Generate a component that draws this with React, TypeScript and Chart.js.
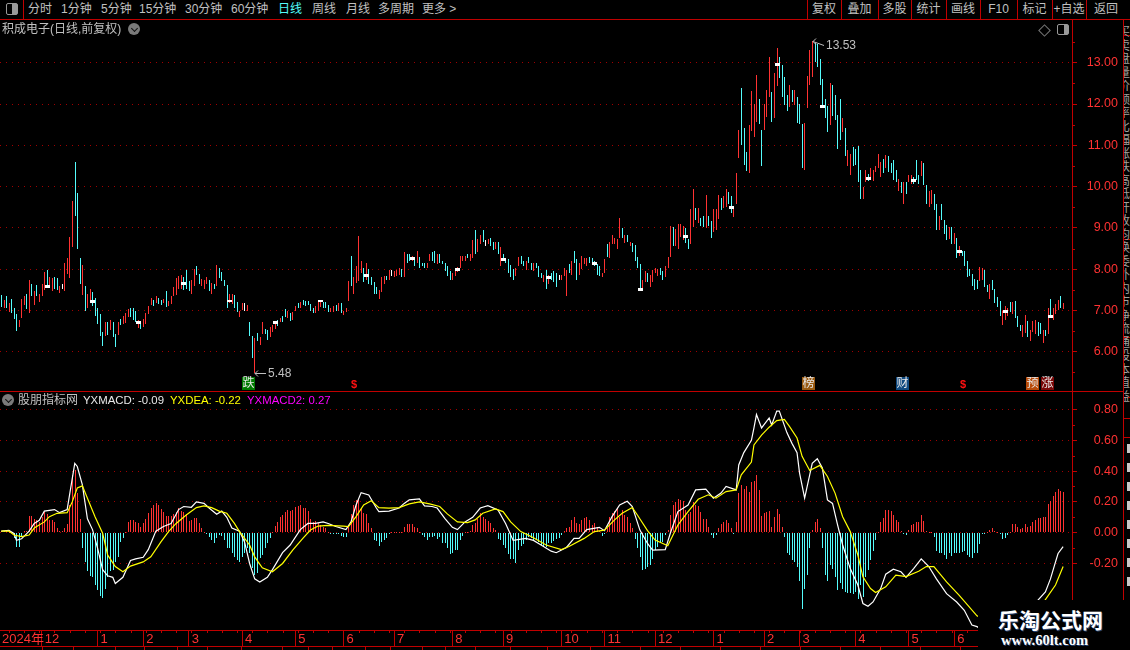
import React, { useEffect, useRef } from "react";
import { Chart, registerables } from "chart.js";
Chart.register(...registerables);

const barHigh = [7.37,7.25,7.35,7.17,7.29,7.07,6.91,6.76,7.27,7.35,
7.41,7.75,7.65,7.47,7.61,7.41,7.65,7.93,7.98,7.82,
7.78,7.82,7.78,7.59,7.65,8.14,8.28,8.77,9.65,10.6,
9.84,8.28,8.09,7.59,7.41,7.51,7.44,7.31,7.07,6.91,
6.48,6.71,6.72,6.76,6.72,6.44,6.72,6.79,6.86,6.93,
7.03,7.05,7.05,7.0,6.78,6.75,6.80,6.95,7.10,7.31,
7.25,7.35,7.31,7.25,7.29,7.47,7.23,7.35,7.56,7.78,
7.83,7.86,7.82,7.98,7.72,7.73,8.0,8.07,7.88,7.76,
7.73,7.82,7.73,7.67,7.65,8.1,8.04,7.94,7.73,7.61,
7.39,7.39,7.37,7.21,7.0,7.19,7.17,7.13,6.71,6.38,
6.33,6.45,6.35,6.71,6.55,6.54,6.59,6.65,6.72,6.76,
6.82,6.86,7.03,6.98,6.94,6.96,7.10,7.17,7.2,7.25,
7.22,7.22,7.15,7.05,7.12,7.21,7.25,7.21,7.20,7.14,
7.05,7.1,7.13,7.17,7.17,7.0,7.07,7.71,8.32,7.82,
8.07,8.8,8.19,8.04,8.14,8.0,7.80,7.68,7.58,7.49,
7.80,7.83,7.83,7.97,7.97,7.95,7.97,8.04,8.0,8.41,
8.36,8.38,8.33,8.26,8.43,8.29,8.16,8.14,8.14,8.38,
8.41,8.43,8.38,8.36,8.19,8.14,8.07,7.95,7.92,7.95,
8.05,8.33,8.33,8.33,8.36,8.38,8.70,8.94,8.72,8.84,
8.94,8.70,8.72,8.75,8.67,8.65,8.67,8.53,8.38,8.21,
8.24,8.09,8.0,8.04,8.29,8.33,8.21,8.21,8.29,8.14,
8.14,8.14,8.07,7.92,7.85,7.97,7.85,7.92,7.95,7.90,
7.87,7.87,8.04,7.97,8.12,8.21,8.43,8.24,8.14,8.31,
8.26,8.26,8.29,8.26,8.21,8.12,8.07,7.92,8.24,8.60,
8.65,8.82,8.75,8.72,9.23,8.99,8.84,8.84,8.67,8.63,
8.58,8.29,8.12,7.75,7.95,7.92,7.87,7.97,8.04,8.0,
8.02,7.95,8.07,8.29,9.04,9.01,8.97,9.09,9.09,9.04,
8.99,8.72,9.45,9.94,9.47,9.47,9.23,9.30,9.79,9.28,
9.16,9.45,9.45,9.79,9.72,9.77,9.94,9.86,9.77,9.51,
10.34,11.36,12.38,11.41,10.83,11.49,12.31,12.0,12.70,12.13,
11.36,11.99,12.34,13.15,12.30,12.76,13.36,13.15,12.94,12.66,
12.21,12.46,12.34,12.34,12.18,12.0,11.51,11.53,12.68,13.31,
13.53,13.47,13.45,13.08,12.6,12.13,11.95,12.5,12.46,12.21,
11.73,12.11,11.65,11.41,10.88,10.78,10.95,10.91,10.98,10.40,
9.99,10.40,10.3,10.44,10.40,10.51,10.78,10.60,10.68,10.76,
10.73,10.56,10.64,10.40,10.19,10.11,10.11,10.11,10.27,10.27,
10.23,10.64,10.27,10.61,10.56,10.03,9.89,9.91,9.81,9.59,
9.28,9.57,9.18,9.06,9.02,9.02,8.88,8.76,8.57,8.45,
8.43,8.21,8.0,7.89,7.76,7.73,8.06,8.03,7.99,7.62,
7.64,7.73,7.52,7.32,7.22,7.0,7.12,7.07,7.2,7.2,
7.24,6.87,6.66,6.64,6.88,6.74,6.54,6.75,6.77,6.71,
6.70,6.54,6.54,7.05,7.27,7.05,7.15,7.26,7.34,7.18];

const barLow = [7.09,7.06,7.05,6.97,6.93,6.79,6.50,6.59,6.81,7.13,
7.03,6.93,7.35,7.13,7.35,7.20,7.35,7.49,7.55,7.57,
7.48,7.51,7.49,7.43,7.52,7.48,7.88,7.78,8.54,9.3,
8.50,7.64,7.38,7.0,7.07,7.25,7.10,6.86,6.67,6.38,
6.13,6.38,6.40,6.52,6.36,6.12,6.40,6.64,6.68,6.70,
6.84,6.84,6.76,6.72,6.57,6.55,6.59,6.67,6.91,7.13,
7.10,7.17,7.15,7.13,7.18,7.09,7.10,7.15,7.35,7.37,
7.51,7.53,7.49,7.51,7.48,7.39,7.6,7.86,7.64,7.6,
7.53,7.65,7.47,7.41,7.51,7.59,7.78,7.71,7.59,7.05,
7.18,7.15,7.07,6.97,6.84,7.02,7.0,6.98,6.38,5.84,
5.48,6.25,6.16,6.42,6.44,6.28,6.35,6.47,6.55,6.62,
6.71,6.72,6.84,6.83,6.74,6.76,6.98,7.06,7.05,7.13,
7.12,7.13,7.0,6.94,6.94,7.0,7.09,7.07,7.06,6.97,
6.97,6.97,7.0,6.99,6.93,6.89,6.97,7.22,7.59,7.41,
7.67,7.71,7.90,7.68,7.75,7.63,7.61,7.41,7.39,7.27,
7.46,7.63,7.73,7.73,7.83,7.80,7.83,7.87,7.80,7.80,
8.14,8.21,8.19,8.07,8.16,8.04,8.07,8.04,8.02,8.19,
8.21,8.14,8.12,8.14,8.12,7.95,7.83,7.75,7.75,7.83,
7.93,8.02,8.19,8.21,8.26,8.21,8.26,8.38,8.41,8.60,
8.65,8.55,8.60,8.55,8.46,8.48,8.38,8.07,8.19,8.14,
7.92,7.80,7.73,7.83,8.07,8.12,8.07,7.97,8.14,7.97,
7.95,8.02,7.80,7.78,7.68,7.53,7.63,7.75,7.70,7.58,
7.75,7.75,7.83,7.36,7.90,7.85,8.14,7.75,7.85,8.0,
8.12,8.07,8.14,8.12,8.07,7.87,7.83,7.80,7.90,8.29,
8.26,8.60,8.60,8.48,8.75,8.75,8.63,8.67,8.55,8.41,
8.21,8.02,7.51,7.51,7.68,7.68,7.58,7.70,7.92,7.83,
7.87,7.75,7.80,8.04,8.29,8.55,8.55,8.50,8.77,8.70,
8.63,8.50,8.60,9.01,9.18,9.11,9.04,9.01,8.99,9.04,
8.75,8.89,8.96,9.22,9.43,9.49,9.51,9.59,9.35,9.27,
9.57,10.69,11.0,10.52,10.37,10.33,11.35,11.2,11.57,11.51,
10.49,11.36,11.69,12.17,11.57,11.67,12.43,12.64,12.17,11.97,
11.83,11.92,12.05,11.97,11.53,11.51,10.44,10.40,11.91,12.46,
12.66,13.02,12.90,12.46,11.9,11.65,11.33,11.49,11.71,11.61,
10.90,11.12,11.33,10.74,10.49,10.27,10.49,10.52,10.11,9.69,
9.71,10.11,10.14,10.19,10.14,10.35,10.45,10.23,10.33,10.46,
10.35,10.33,10.15,10.11,9.89,9.85,9.57,9.81,10.10,10.07,
10.06,10.15,10.06,10.26,10.03,9.59,9.51,9.59,9.43,8.96,
8.96,9.19,8.86,8.70,8.74,8.62,8.60,8.27,8.32,8.32,
8.07,7.80,7.84,7.59,7.50,7.52,7.71,7.74,7.58,7.44,
7.28,7.49,7.19,7.08,6.87,6.66,6.77,6.87,6.96,6.91,
6.82,6.60,6.50,6.35,6.46,6.37,6.27,6.47,6.43,6.39,
6.42,6.21,6.39,6.42,6.85,6.76,6.92,7.02,7.06,7.04];

// r = up, c = down, w = flat
const barTone = "crcrcccrrr" + "crcrcrrrcr" + "rccrwrrrrc" + "ccrcrrcccc" + "crcrccrcrr" + "rcccrcrrrr" + "crccrcrrrr" + "rrcccrrccr" +
"rrcrcrcccc" + "rrccrrwrcc" + "rcrrccrrrc" + "rccrcrrcrc" + "ccccrrrccc" + "rrcrcrrrcr" + "rrrcrccccr" + "rrcrwrrrcr" +
"ccrcrcccrr" + "ccrcccccrr" + "rrrrcrrcrr" + "cwrccrcrcc" + "cccrrccrcc" + "rcccrcrccc" + "wrrrcrccrr" + "rrcccccrrc" +
"rrrrrcrcrc" + "cccrrcrrrr" + "ccrrrcrrrr" + "ccrrcrccrc" + "crrrcrrccr" + "rrcccrrrrc" + "crrrcrrccc" + "crcrcccrrr" +
"rccccccrcc" + "ccrcrrcccc" + "rrcrrrrrcr" + "ccccrcrcrr" + "cccrccrrcc" + "rcccrcrcrc" + "ccccccrrcc" + "rccccrrrcr" +
"cccrrcrrrc" + "crcrcrrrcr";

const markerIndex = [18,36,54,72,90,108,126,144,162,180,198,216,234,252,270,288,306,324,342,360,378,396,414];
const markerPrice = [7.59,7.22,6.72,7.65,7.23,6.72,7.23,7.85,8.26,8.0,8.24,7.80,8.14,7.51,8.80,9.50,12.95,11.93,10.2,10.14,8.43,6.97,6.85];

const histValues = [.01,.01,.01,.005,.005,-.035,-.09,-.09,-.02,.01,
.01,.11,.11,.09,.08,.07,.10,.137,.12,.08,
.08,.067,.028,.013,.013,.028,.054,.18,.376,.41,
.257,.087,-.1,-.19,-.25,-.28,-.29,-.34,-.37,-.41,
-.424,-.366,-.287,-.25,-.24,-.19,-.157,-.063,-.033,.006,
.067,.083,.083,.067,.06,.04,.06,.09,.126,.16,
.18,.19,.18,.154,.137,.11,.11,.11,.12,.137,
.16,.14,.137,.12,.076,.083,.093,.093,.06,.033,
.007,-.005,-.026,-.048,-.065,-.033,-.015,-.02,-.048,-.10,
-.10,-.135,-.157,-.18,-.19,-.157,-.135,-.10,-.135,-.23,
-.276,-.265,-.167,-.146,-.10,-.07,-.033,.004,.043,.07,
.104,.115,.137,.148,.14,.148,.17,.176,.18,.16,
.163,.14,.09,.067,.076,.06,.05,.04,.028,.005,
-.004,-.006,-.006,-.006,-.02,-.025,-.03,.04,.12,.18,
.21,.22,.16,.13,.12,.06,.028,-.05,-.055,-.087,
-.06,-.05,-.037,-.01,.005,.005,.005,.005,.003,.035,
.056,.056,.056,.04,.028,.007,-.015,-.03,-.048,-.03,
-.026,-.02,-.04,-.03,-.065,-.07,-.1,-.14,-.13,-.11,
-.11,-.048,-.02,.005,.007,.013,.05,.06,.087,.126,
.1,.087,.076,.065,.028,.017,-.043,-.048,-.08,-.1,
-.14,-.174,-.174,-.196,-.113,-.087,-.074,-.048,-.03,-.037,
-.048,-.048,-.06,-.08,-.09,-.09,-.07,-.065,-.054,-.043,
-.037,-.015,.013,.028,.04,.083,.1,.06,.056,.083,
.098,.1,.083,.05,.06,.035,.013,-.02,-.004,.028,
.1,.13,.143,.16,.1,.148,.115,.1,.06,.028,
-.043,-.1,-.157,-.24,-.233,-.22,-.21,-.17,-.113,-.096,
-.07,-.06,-.015,.02,.115,.18,.2,.217,.213,.206,
.148,.12,.137,.2,.18,.174,.137,.087,.087,.04,
-.015,-.033,-.015,.028,.056,.07,.083,.06,.028,-.008,
.07,.26,.31,.283,.3,.267,.326,.333,.376,.278,
.109,.126,.137,.14,.04,.104,.154,.12,.04,-.026,
-.135,-.146,-.178,-.19,-.22,-.313,-.493,-.363,-.276,-.098,
.017,.07,.09,.033,-.098,-.276,-.315,-.21,-.237,-.287,
-.374,-.33,-.363,-.385,-.39,-.39,-.40,-.385,-.428,-.34,
-.417,-.287,-.243,-.178,-.12,-.048,.007,.067,.098,.148,
.148,.14,.115,.08,.07,.01,-.004,-.015,.017,.05,
.056,.067,.07,.115,.078,.013,.005,.002,-.026,-.12,
-.13,-.135,-.146,-.172,-.135,-.15,-.135,-.135,-.135,-.124,
-.12,-.146,-.157,-.163,-.135,-.13,-.076,-.004,-.004,.002,
.017,.03,.013,.002,-.008,-.04,-.037,-.015,.006,.054,
.056,.04,.024,.033,.056,.04,.046,.067,.083,.093,
.098,.104,.104,.187,.207,.24,.267,.285,.27,.263];

const macdIndex = [0,3,5,6,8,11,13,15,17,21,23,26,27,29,30,32,34,36,38,40,42,44,45,48,51,53,56,58,61,64,67,70,72,75,77,80,82,85,87,89,91,94,96,98,100,102,105,107,111,114,118,121,124,127,129,132,136,138,140,142,145,148,149,153,157,159,161,165,167,170,172,175,178,180,183,186,189,192,196,199,202,207,210,213,217,219,223,226,228,231,236,238,241,244,247,249,252,255,257,262,264,267,271,274,278,281,284,286,290,291,293,296,297,298,300,303,304,306,307,310,312,314,315,317,319,320,322,324,326,328,330,332,335,338,340,342,344,347,349,352,355,357,360,363,366,369,373,377,380,383,385,392,398,404,409,412,414,416,417,419];
const macdValues = [.01,.015,-.005,-.05,-.04,.01,.06,.08,.14,.15,.13,.15,.25,.45,.43,.31,.09,.02,-.10,-.24,-.28,-.29,-.33,-.29,-.18,-.17,-.16,-.11,.01,.04,.06,.15,.17,.165,.20,.19,.16,.12,.14,.10,.03,.01,-.06,-.20,-.30,-.32,-.29,-.24,-.13,-.08,.02,.06,.06,.07,.06,.04,.02,.07,.18,.26,.245,.16,.137,.14,.16,.19,.213,.22,.174,.17,.16,.093,.035,.02,.07,.10,.16,.176,.148,.06,-.05,-.037,-.05,-.08,-.12,-.13,-.096,-.037,-.037,.02,.035,.013,.104,.18,.204,.17,.017,-.07,-.113,-.11,-.004,.137,.18,.278,.283,.224,.257,.30,.278,.44,.52,.60,.68,.767,.68,.745,.70,.79,.79,.65,.58,.52,.387,.224,.376,.45,.48,.42,.213,.19,.05,-.08,-.233,-.34,-.46,-.478,-.45,-.363,-.27,-.237,-.254,-.29,-.233,-.17,-.22,-.30,-.396,-.45,-.504,-.60,-.61,-.68,-.70,-.60,-.44,-.385,-.30,-.19,-.135,-.09];

const deaIndex = [0,3,5,8,11,13,17,19,22,26,28,30,32,34,37,40,42,45,48,51,56,59,63,66,69,73,77,80,83,86,89,92,94,98,100,103,107,111,115,119,122,125,129,135,137,140,143,146,149,153,157,161,165,169,173,176,180,184,187,190,195,198,201,205,210,215,221,224,230,234,238,242,245,249,251,255,258,263,267,271,275,279,282,286,290,292,296,297,300,303,306,309,311,314,316,319,323,326,329,332,335,338,340,343,345,349,353,357,362,365,368,373,378,385,395,405,412,416,419];
const deaValues = [.01,.01,-.015,-.026,-.015,.03,.07,.104,.126,.13,.20,.29,.304,.224,.104,-.004,-.146,-.22,-.254,-.217,-.19,-.157,-.06,.007,.06,.115,.163,.174,.163,.14,.126,.06,.007,-.08,-.157,-.228,-.254,-.20,-.113,-.037,.017,.043,.048,.043,.04,.104,.18,.207,.163,.16,.163,.187,.20,.187,.17,.122,.07,.065,.083,.126,.154,.137,.07,.007,-.033,-.08,-.11,-.09,-.037,.007,.017,.083,.126,.163,.115,.013,-.048,-.085,.05,.137,.217,.246,.224,.267,.278,.376,.459,.57,.633,.685,.728,.735,.69,.615,.496,.404,.437,.365,.257,.104,.007,-.146,-.287,-.363,-.389,-.352,-.276,-.285,-.25,-.22,-.22,-.32,-.407,-.54,-.63,-.60,-.435,-.34,-.22];

const priceTicks = [6, 7, 8, 9, 10, 11, 12, 13];
const priceHalfTicks = [5.5, 6.5, 7.5, 8.5, 9.5, 10.5, 11.5, 12.5, 13.5];
const macdTicks = [-0.2, 0, 0.2, 0.4, 0.6, 0.8];
const macdHalfTicks = [-0.1, 0.1, 0.3, 0.5, 0.7];
const monthIndex = [16,38,56,74,95,116,135,155,178,198,221,238,258,281,301,315,337,358,376];
const monthLabels = ["12","1","2","3","4","5","6","7","8","9","10","11","12","1","2","3","4","5","6"];
const highPoint = { index: 320, price: 13.53 };
const lowPoint = { index: 100, price: 5.48 };

const RED = "#ff3232";
const CYAN = "#54fcfc";
const AXIS = "#c00000";
const DOT = "#a00000";
const GREY = "#c0c0c0";
const TEXT_FONT = '"Liberation Sans","Noto Sans CJK SC",sans-serif';
const SLOTS = 423;
const toneColor: Record<string, string> = { r: RED, c: CYAN, w: "#ffffff" };

// keep one-pixel bars on whole pixels, as the terminal draws them
const snapBars = {
  id: "snapBars",
  beforeDatasetDraw(chart: any, args: any) {
    if (args.meta.type !== "bar") return;
    for (const el of args.meta.data) {
      el.x = Math.floor(el.x + 0.25) + 0.5;
      const a = Math.round(el.y);
      let b = Math.round(el.base);
      if (a === b) b = a + 1;
      el.y = a;
      el.base = b;
    }
  },
};

const halfTicks = (values: number[]) => ({
  id: "halfTicks",
  afterDraw(chart: any) {
    const { ctx, chartArea, scales } = chart;
    ctx.save();
    ctx.strokeStyle = AXIS;
    ctx.lineWidth = 1;
    for (const v of values) {
      const y = Math.round(scales.y.getPixelForValue(v)) + 0.5;
      ctx.beginPath();
      ctx.moveTo(chartArea.right, y);
      ctx.lineTo(chartArea.right + 3, y);
      ctx.stroke();
    }
    ctx.restore();
  },
});

const extremeLabels = {
  id: "extremeLabels",
  afterDatasetsDraw(chart: any) {
    const { ctx, scales } = chart;
    ctx.save();
    ctx.strokeStyle = GREY;
    ctx.fillStyle = GREY;
    ctx.lineWidth = 1;
    ctx.font = `12px ${TEXT_FONT}`;
    ctx.textBaseline = "middle";
    for (const [p, dy] of [[highPoint, 4], [lowPoint, 0]] as [typeof highPoint, number][]) {
      const x = Math.floor(scales.x.getPixelForValue(p.index) + 0.25) + 1;
      const y = Math.round(scales.y.getPixelForValue(p.price));
      ctx.beginPath();
      ctx.moveTo(x, y + 0.5);
      ctx.lineTo(x + 11, y + dy + 0.5);
      ctx.moveTo(x, y + 0.5);
      ctx.lineTo(x + 3, y - 2.5);
      ctx.moveTo(x, y + 0.5);
      ctx.lineTo(x + 3, y + 3.5);
      ctx.stroke();
      ctx.fillText(p.price.toFixed(2), x + 13, y + dy + 0.5);
    }
    ctx.restore();
  },
};

const shortDateTicks = {
  id: "shortDateTicks",
  afterDraw(chart: any) {
    const { ctx, chartArea, scales } = chart;
    ctx.save();
    ctx.strokeStyle = AXIS;
    for (let i = 3; i < 420; i += 6) {
      const x = Math.round(scales.x.getPixelForValue(i)) + 0.5;
      ctx.beginPath();
      ctx.moveTo(x, chartArea.bottom);
      ctx.lineTo(x, chartArea.bottom + 3);
      ctx.stroke();
    }
    ctx.restore();
  },
};

const yScale = (min: number, max: number, ticks: number[]) => ({
  type: "linear",
  position: "right",
  min,
  max,
  afterFit: (s: any) => { s.width = 46; s.paddingTop = 0; s.paddingBottom = 0; s.paddingLeft = 0; s.paddingRight = 0; },
  afterBuildTicks: (s: any) => { s.ticks = ticks.map((value) => ({ value })); },
  border: { display: true, color: AXIS, width: 1, dash: [1, 5] },
  grid: { color: DOT, lineWidth: 1, tickLength: 5, tickColor: AXIS, tickBorderDash: [] },
  ticks: {
    color: RED,
    font: { family: TEXT_FONT, size: 12.5 },
    crossAlign: "far",
    padding: 2,
    autoSkip: false,
    callback: (v: number) => Number(v).toFixed(2),
  },
});

const divider = (left: number, top: number, width: number, height: number, color = AXIS) => (
  <div style={{ position: "absolute", left, top, width, height, background: color }} />
);

const label = (text: string, left: number, top: number, color = GREY, size = 12, extra: any = {}) => (
  <div style={{ position: "absolute", left, top, color, fontSize: size, fontFamily: TEXT_FONT, lineHeight: "14px", whiteSpace: "nowrap", ...extra }}>{text}</div>
);

const circleIcon = (left: number, top: number) => (
  <div style={{ position: "absolute", left, top, width: 12, height: 12, borderRadius: 6, background: "#7a7a7a" }}>
    <div style={{ position: "absolute", left: 3.5, top: 2.5, width: 4, height: 4, borderRight: "1px solid #111", borderBottom: "1px solid #111", transform: "rotate(45deg)" }} />
  </div>
);

const eventTag = (text: string, left: number, bg: string) => (
  <div style={{ position: "absolute", left, top: 377, width: 13, height: 13, background: bg, color: "#e8e8e8", fontSize: 12, lineHeight: "13px", textAlign: "center", fontFamily: TEXT_FONT }}>{text}</div>
);

const dollarTag = (left: number) => (
  <div style={{ position: "absolute", left, top: 378, color: "#ff1010", fontSize: 11, lineHeight: "12px", fontWeight: 700, fontFamily: TEXT_FONT }}>$</div>
);

const toolLeft = [["分时",28],["1分钟",61],["5分钟",101],["15分钟",139],["30分钟",185],["60分钟",231],["日线",278],["周线",312],["月线",346],["多周期",378],["更多 >",422]] as [string, number][];
const toolRight = [["复权",807,841],["叠加",841,878],["多股",878,911],["统计",911,946],["画线",946,980],["F10",980,1017],["标记",1017,1052],["+自选",1052,1086],["返回",1086,1126]] as [string, number, number][];
const stripRows = ["买","卖","盘","量","价","额","率","比","幅","涨","跌","高","低","开","收","均","换","委","外","内","市","净","流","通","股","本","值","益"];
const bottomTicks = [42,73,115,144,177,207,241,282,308,332,365,390,422,445,475,510,547,590,640,680,720,760,800,840,880,920,960];

export default function App() {
  const priceRef = useRef<HTMLCanvasElement>(null);
  const macdRef = useRef<HTMLCanvasElement>(null);

  useEffect(() => {
    document.body.style.margin = "0";
    document.body.style.background = "#000";
    const xHidden: any = { type: "linear", min: -0.5, max: SLOTS - 0.5, display: false, offset: false };
    const common: any = {
      responsive: false,
      animation: false,
      devicePixelRatio: 1,
      layout: { padding: 0, autoPadding: false },
      plugins: { legend: { display: false }, tooltip: { enabled: false } },
      events: [],
    };
    const price = new Chart(priceRef.current as any, {
      type: "bar",
      data: {
        datasets: [
          {
            label: "marks",
            data: markerIndex.map((x, k) => ({ x, y: [markerPrice[k] - 0.035, markerPrice[k] + 0.035] })),
            backgroundColor: "#ffffff",
            barThickness: 5,
            inflateAmount: 0,
            grouped: false,
            order: 0,
          },
          {
            label: "candles",
            data: barHigh.map((h, i) => ({ x: i, y: [barLow[i], h] })),
            backgroundColor: barHigh.map((_, i) => toneColor[barTone[i]]),
            barThickness: 1,
            inflateAmount: 0,
            grouped: false,
            order: 1,
          },
        ] as any,
      },
      options: {
        ...common,
        scales: { x: xHidden, y: yScale(5.051, 14.034, priceTicks) },
      },
      plugins: [snapBars, halfTicks(priceHalfTicks), extremeLabels],
    });
    const macd = new Chart(macdRef.current as any, {
      type: "bar",
      data: {
        datasets: [
          {
            type: "line",
            label: "YXDEA",
            data: deaIndex.map((x, k) => ({ x, y: deaValues[k] })),
            borderColor: "#ffff00",
            borderWidth: 1.2,
            pointRadius: 0,
            tension: 0,
            order: 0,
          },
          {
            type: "line",
            label: "YXMACD",
            data: macdIndex.map((x, k) => ({ x, y: macdValues[k] })),
            borderColor: "#ffffff",
            borderWidth: 1.2,
            pointRadius: 0,
            tension: 0,
            order: 1,
          },
          {
            label: "YXMACD2",
            data: histValues.map((v, i) => ({ x: i, y: v })),
            backgroundColor: histValues.map((v) => (v >= 0 ? RED : CYAN)),
            barThickness: 1,
            inflateAmount: 0,
            grouped: false,
            order: 2,
          },
        ] as any,
      },
      options: {
        ...common,
        scales: {
          x: {
            type: "linear",
            offset: false,
            min: -0.5,
            max: SLOTS - 0.5,
            afterFit: (s: any) => { s.height = 17; s.paddingLeft = 0; s.paddingRight = 0; s.paddingTop = 0; s.paddingBottom = 0; },
            afterBuildTicks: (s: any) => { s.ticks = monthIndex.map((value) => ({ value })); },
            border: { display: false },
            grid: { offset: false, drawOnChartArea: false, tickLength: 16, tickColor: AXIS, tickWidth: 1 },
            ticks: {
              color: RED,
              font: { family: TEXT_FONT, size: 13 },
              align: "start",
              labelOffset: 3,
              padding: -14,
              maxRotation: 0,
              autoSkip: false,
              callback: (_: any, i: number) => monthLabels[i],
            },
          },
          y: yScale(-0.632, 0.9136, macdTicks),
        },
      },
      plugins: [snapBars, halfTicks(macdHalfTicks), shortDateTicks],
    });
    return () => { price.destroy(); macd.destroy(); };
  }, []);

  return (
    <div style={{ position: "absolute", left: 0, top: 0, width: 1130, height: 650, background: "#000", overflow: "hidden" }}>
      <canvas ref={priceRef} width={1118} height={371} style={{ position: "absolute", left: 0, top: 20, width: 1118, height: 371 }} />
      <canvas ref={macdRef} width={1118} height={255} style={{ position: "absolute", left: 0, top: 392, width: 1118, height: 255 }} />

      {divider(0, 19, 1130, 1)}
      {divider(0, 391, 1123, 1)}
      {divider(0, 630, 1072, 1)}
      {divider(0, 646, 1072, 1)}
      {divider(1123, 20, 1, 580)}
      {divider(1123, 35, 7, 1)}
      {divider(1123, 142, 7, 1)}
      {divider(1123, 239, 7, 1)}
      {divider(1123, 337, 7, 1)}
      {divider(1123, 397, 7, 1)}
      {divider(1123, 418, 7, 1)}
      {divider(1123, 437, 7, 1)}
      {divider(23, 0, 1, 19)}
      {toolRight.map(([, l]) => <React.Fragment key={l}>{divider(l, 0, 1, 19)}</React.Fragment>)}
      {bottomTicks.map((x) => <React.Fragment key={x}>{divider(x, 647, 1, 3)}</React.Fragment>)}

      <div style={{ position: "absolute", left: 1124, top: 20, width: 6, height: 580, overflow: "hidden" }}>
        {stripRows.map((c, i) => (
          <div key={i} style={{ position: "absolute", left: -6, top: 6 + i * 13.5, color: "#a0a0a0", fontSize: 12, lineHeight: "13px", fontFamily: TEXT_FONT }}>{c}</div>
        ))}
        {[0, 1, 2, 3, 4, 5, 6, 7].map((i) => (
          <div key={i} style={{ position: "absolute", left: 3, top: 424 + i * 19, width: 3, height: 9, background: "#c8c8c8" }} />
        ))}
      </div>

      {/* toolbar */}
      <div style={{ position: "absolute", left: 6, top: 3, width: 12, height: 12, border: "1px solid #999", borderRadius: 2, boxSizing: "border-box" }}>
        <div style={{ position: "absolute", right: 0, top: 0, width: 5, height: 10, background: "#999" }} />
      </div>
      {toolLeft.map(([t, x]) => <React.Fragment key={t}>{label(t, x, 2, t === "日线" ? "#54fcfc" : GREY)}</React.Fragment>)}
      {toolRight.map(([t, a, b]) => (
        <div key={t} style={{ position: "absolute", left: a, width: b - a, top: 2, textAlign: "center", color: GREY, fontSize: 12, lineHeight: "14px", fontFamily: TEXT_FONT }}>{t}</div>
      ))}

      {/* price panel captions */}
      {label("积成电子(日线,前复权)", 2, 22, GREY, 12)}
      {circleIcon(128, 23)}
      <div style={{ position: "absolute", left: 1040, top: 26, width: 7, height: 7, border: "1px solid #777", transform: "rotate(45deg)" }} />
      <div style={{ position: "absolute", left: 1057, top: 24, width: 12, height: 11, border: "1px solid #999", borderRadius: 2, boxSizing: "border-box" }}>
        <div style={{ position: "absolute", right: 0, top: 0, width: 4, height: 9, background: "#999" }} />
      </div>
      {eventTag("跌", 242, "#007a00")}
      {dollarTag(351)}
      {eventTag("榜", 802, "#9a5a10")}
      {eventTag("财", 896, "#104a80")}
      {dollarTag(960)}
      {eventTag("预", 1026, "#b84a08")}
      {eventTag("涨", 1041, "#7a0808")}

      {/* indicator captions */}
      {circleIcon(2, 394)}
      {label("股朋指标网", 18, 393, GREY, 12)}
      {label("YXMACD: -0.09", 83, 393, "#e8e8e8", 11.4)}
      {label("YXDEA: -0.22", 170, 393, "#ffff00", 11.4)}
      {label("YXMACD2: 0.27", 247, 393, "#ff00ff", 11.4)}

      {/* date axis */}
      {label("2024年", 2, 632, RED, 13)}

      {/* site watermark */}
      <div style={{ position: "absolute", left: 978, top: 600, width: 152, height: 50, background: "#000" }} />
      <div style={{ position: "absolute", left: 998, top: 607, color: "#fff", fontSize: 21, lineHeight: "24px", fontWeight: 700, fontFamily: '"Noto Sans CJK SC",sans-serif', textShadow: "1px 1px 0 #24406e", whiteSpace: "nowrap" }}>乐淘公式网</div>
      <div style={{ position: "absolute", left: 1001, top: 632, color: "#fff", fontSize: 14.5, lineHeight: "16px", fontWeight: 700, fontFamily: '"Liberation Serif",serif', textShadow: "1px 1px 0 #24406e", whiteSpace: "nowrap" }}>www.60lt.com</div>
    </div>
  );
}
